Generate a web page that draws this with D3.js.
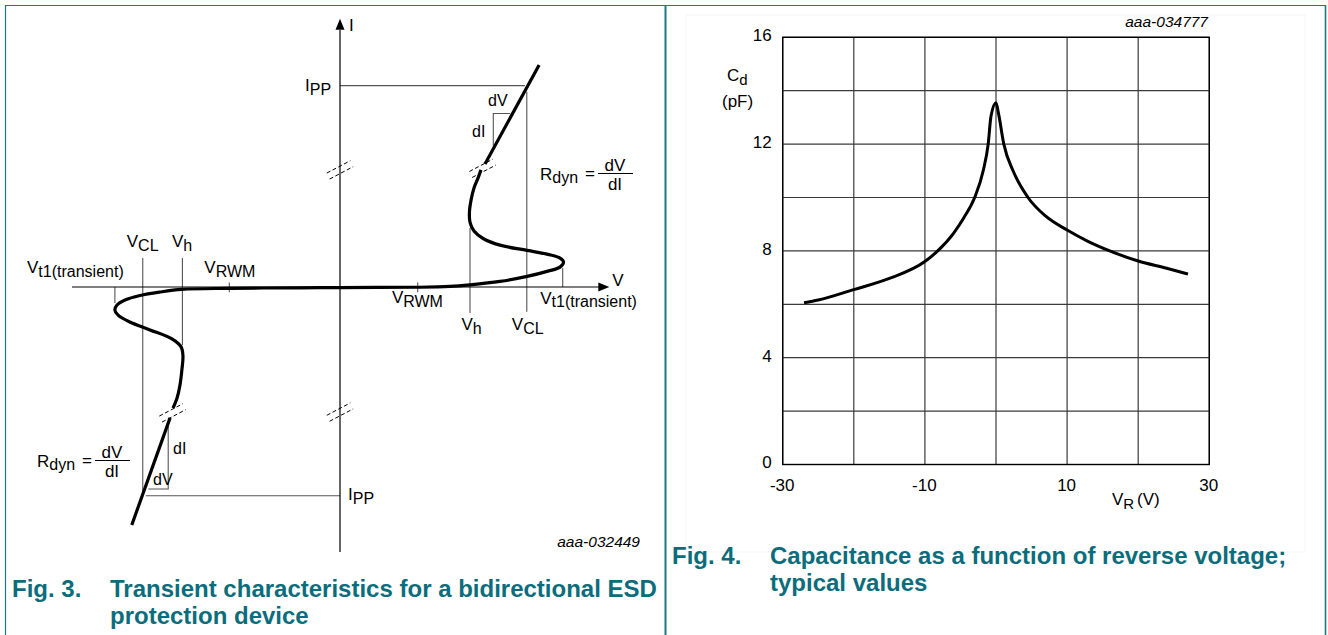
<!DOCTYPE html>
<html><head><meta charset="utf-8">
<script src="https://cdn.jsdelivr.net/npm/d3@7"></script>
<style>
body{margin:0;background:#fff;}
svg{display:block;font-family:"Liberation Sans",Arial,sans-serif;}
</style></head>
<body>
<script>
// ---------- Fig. 3 (schematic, arbitrary units) ----------
const lowLineV = [-7.77, -6.34];
const lowLineI = [-8.98, -4.94];
const midCurveV = [-6.23,-6.08,-5.97,-5.90,-5.86,-5.93,-6.27,-7.09,-7.84,-8.28,-8.40,-8.32,-8.02,-7.46,-6.72,-5.90,-4.14,-1.49,0,2.87,4.10,4.85,5.97,6.98,7.76,8.21,8.34,8.21,7.76,6.98,5.97,5.34,5.00,4.85,4.83,4.89,5.00,5.15,5.26];
const midCurveI = [-4.57,-4.19,-3.70,-3.13,-2.60,-2.26,-1.96,-1.62,-1.32,-1.06,-0.87,-0.68,-0.49,-0.32,-0.19,-0.09,-0.05,-0.03,-0.02,-0.01,0.02,0.08,0.21,0.40,0.60,0.75,0.94,1.09,1.23,1.38,1.58,1.83,2.11,2.45,2.83,3.28,3.74,4.11,4.42];
const highLineV = [5.41, 7.43];
const highLineI = [4.64, 8.38];
const vclLevels = [-7.36, 6.97];
const vhLevels = [-5.88, 4.85];
const vt1Levels = [-8.40, 8.31];
const vrwmLevels = [-4.13, 2.90];
const ippLevels = [-7.88, 7.60];
const breakV = [0, 0, -6.25, 5.32];
const breakI = [4.42, -4.72, -4.75, 4.48];
const triTopV = [5.72, 5.72, 6.34];
const triTopI = [5.32, 6.55, 6.55];
const triLowV = [-6.41, -6.41, -7.15];
const triLowI = [-5.27, -7.62, -7.62];

// ---------- Fig. 4 (capacitance vs reverse voltage) ----------
const vrValues = [-27,-25,-20,-15,-10,-8.2,-6,-4.5,-3,-1.8,-1.1,-0.7,0,0.35,1.1,2.4,4.5,7,10,13,16,20,24,27];
const cdValues = [6.06,6.16,6.55,6.97,7.6,8.0,8.65,9.25,10.0,11.0,12.0,13.05,13.55,13.15,12.0,11.0,10.0,9.3,8.78,8.35,8.0,7.62,7.35,7.13];
const xTickLabels = [-30,-10,10,30];
const yTickLabels = [0,4,8,12,16];

const W = 1328, H = 635;
const teal = "#0b6d7b";
const svg = d3.select("body").append("svg").attr("width", W).attr("height", H);

// panel borders
const border = svg.append("g").attr("stroke", "#1d7880").attr("fill", "none");
border.append("line").attr("x1",5).attr("x2",1326).attr("y1",5.5).attr("y2",5.5).attr("stroke-width",1.2);
border.append("line").attr("x1",5.5).attr("x2",5.5).attr("y1",5).attr("y2",H).attr("stroke-width",1.2);
border.append("line").attr("x1",665.5).attr("x2",665.5).attr("y1",5).attr("y2",H).attr("stroke-width",2);
border.append("line").attr("x1",1325.5).attr("x2",1325.5).attr("y1",5).attr("y2",H).attr("stroke-width",1.6);
svg.append("rect").attr("x",686).attr("y",15).attr("width",619).attr("height",537)
  .attr("fill","none").attr("stroke","#f5f5f5");

function label(g, x, y, main, sub, opts={}) {
  const fs = opts.fs || 17, sfs = opts.sfs || 16;
  const t = g.append("text").attr("x", x).attr("y", y).attr("font-size", fs)
    .attr("fill", "#000").attr("text-anchor", opts.anchor || "start");
  t.append("tspan").text(main);
  if (sub) t.append("tspan").attr("font-size", sfs).attr("dy", opts.dy || 4).text(sub);
  return t;
}

// ===== Left chart =====
const xL = d3.scaleLinear().domain([-10, 10]).range([72, 608]);
const yL = d3.scaleLinear().domain([-10, 10]).range([552, 22]);
const gL = svg.append("g");

// guides (gray)
const guide = gL.append("g").attr("stroke", "#555").attr("stroke-width", 1.1).attr("fill","none");
guide.append("line").attr("x1", xL(0)).attr("x2", xL(6.9)).attr("y1", yL(ippLevels[1])).attr("y2", yL(ippLevels[1]));
guide.append("line").attr("x1", xL(-7.25)).attr("x2", xL(0)).attr("y1", yL(ippLevels[0])).attr("y2", yL(ippLevels[0]));
guide.append("line").attr("x1", xL(vclLevels[0])).attr("x2", xL(vclLevels[0])).attr("y1", yL(1.09)).attr("y2", yL(-7.75));
guide.append("line").attr("x1", xL(vhLevels[0])).attr("x2", xL(vhLevels[0])).attr("y1", yL(1.09)).attr("y2", yL(-2.2));
guide.append("line").attr("x1", xL(vclLevels[1])).attr("x2", xL(vclLevels[1])).attr("y1", yL(7.37)).attr("y2", yL(-0.93));
guide.append("line").attr("x1", xL(vhLevels[1])).attr("x2", xL(vhLevels[1])).attr("y1", yL(2.23)).attr("y2", yL(-0.98));
guide.append("line").attr("x1", xL(vt1Levels[0])).attr("x2", xL(vt1Levels[0])).attr("y1", yL(0)).attr("y2", yL(-0.6));
guide.append("line").attr("x1", xL(vt1Levels[1])).attr("x2", xL(vt1Levels[1])).attr("y1", yL(0)).attr("y2", yL(0.72));
vrwmLevels.forEach(v => guide.append("line").attr("x1", xL(v)).attr("x2", xL(v)).attr("y1", yL(0.17)).attr("y2", yL(-0.2)));
const triLine = d3.line().x(d => xL(d[0])).y(d => yL(d[1]));
guide.append("path").attr("d", triLine(triTopV.map((v,i)=>[v,triTopI[i]])));
guide.append("path").attr("d", triLine(triLowV.map((v,i)=>[v,triLowI[i]])));

// axes
const ax = gL.append("g").attr("stroke", "#000").attr("stroke-width", 1.2);
ax.append("line").attr("x1", xL(-10)).attr("x2", xL(9.7)).attr("y1", yL(0)).attr("y2", yL(0));
ax.append("line").attr("x1", xL(0)).attr("x2", xL(0)).attr("y1", yL(-10)).attr("y2", yL(9.7));
gL.append("path").attr("fill","#000")
  .attr("d", `M${xL(10.05)},${yL(0)} L${xL(10.05)-11},${yL(0)-4.5} L${xL(10.05)-11},${yL(0)+4.5} Z`);
gL.append("path").attr("fill","#000")
  .attr("d", `M${xL(0)},${yL(10.12)} L${xL(0)-4.5},${yL(10.12)+11} L${xL(0)+4.5},${yL(10.12)+11} Z`);

// curve
const crv = d3.line().x(d => xL(d[0])).y(d => yL(d[1])).curve(d3.curveCatmullRom.alpha(0.5));
const cg = gL.append("g").attr("fill","none").attr("stroke","#000").attr("stroke-width",3.2)
  .attr("stroke-linecap","butt").attr("stroke-linejoin","round");
cg.append("path").attr("d", crv(lowLineV.map((v,i)=>[v,lowLineI[i]])));
cg.append("path").attr("d", crv(midCurveV.map((v,i)=>[v,midCurveI[i]])));
cg.append("path").attr("d", crv(highLineV.map((v,i)=>[v,highLineI[i]])));

// break marks
const bm = gL.append("g").attr("stroke","#000").attr("stroke-width",1).attr("stroke-dasharray","4,2.5");
breakV.forEach((v, k) => {
  const cx = xL(v), cy = yL(breakI[k]);
  const dx = 11.8, dy = -6.2, ox = 1.4, oy = 3.0;
  [-1, 1].forEach(s => {
    bm.append("line").attr("x1", cx - dx + s*ox).attr("y1", cy - dy + s*oy)
      .attr("x2", cx + dx + s*ox).attr("y2", cy + dy + s*oy);
  });
});

// left labels
label(gL, xL(0)+9, yL(10.12)+12, "I", null);
label(gL, xL(0)-35, yL(ippLevels[1])+5, "I", "PP");
label(gL, xL(0)+8, yL(ippLevels[0])+4, "I", "PP");
label(gL, xL(vclLevels[0])-16, 247, "V", "CL");
label(gL, xL(vhLevels[0])-10.5, 247, "V", "h");
label(gL, 27, 273, "V", "t1(transient)");
label(gL, xL(vrwmLevels[0])-25, 273, "V", "RWM");
label(gL, xL(2.87)-25, 303, "V", "RWM");
label(gL, xL(vt1Levels[1])-22.5, 304, "V", "t1(transient)", {dy:3});
label(gL, xL(vhLevels[1])-8.5, 330, "V", "h");
label(gL, xL(vclLevels[1])-15, 330, "V", "CL");
label(gL, xL(10.05)+3, yL(0)-1, "V", null);
label(gL, 488, 106, "dV", null, {fs:16});
label(gL, 472, 137, "dI", null, {fs:16});
label(gL, 173, 454, "dI", null, {fs:16});
label(gL, 153, 485, "dV", null, {fs:16});
function rdyn(x, y) {
  label(gL, x, y, "R", "dyn", {dy:3});
  gL.append("text").attr("x", x+45).attr("y", y-1).attr("font-size",17).text("=");
  gL.append("text").attr("x", x+75).attr("y", y-9).attr("font-size",17).attr("text-anchor","middle").text("dV");
  gL.append("line").attr("x1", x+58).attr("x2", x+93).attr("y1", y-6.5).attr("y2", y-6.5).attr("stroke","#000").attr("stroke-width",1.1);
  gL.append("text").attr("x", x+75).attr("y", y+10).attr("font-size",17).attr("text-anchor","middle").text("dI");
}
rdyn(540, 180);
rdyn(37, 467);
gL.append("text").attr("x", 640).attr("y", 547).attr("font-size", 15.5).attr("font-style","italic")
  .attr("text-anchor","end").text("aaa-032449");

// captions
function caption(x, y, num, lines) {
  const g = svg.append("g").attr("fill", teal).attr("font-weight","bold").attr("font-size",24);
  g.append("text").attr("x", x).attr("y", y).text(num);
  lines.forEach((l, i) => g.append("text").attr("x", x+98).attr("y", y + i*27).text(l));
}
caption(12, 597, "Fig. 3.", ["Transient characteristics for a bidirectional ESD", "protection device"]);
caption(672, 564, "Fig. 4.", ["Capacitance as a function of reverse voltage;", "typical values"]);

// ===== Right chart =====
const xR = d3.scaleLinear().domain([-30, 30]).range([782.7, 1209.3]);
const yR = d3.scaleLinear().domain([0, 16]).range([464.5, 37.3]);
const gR = svg.append("g");
const grid = gR.append("g").attr("stroke","#3a3a3a").attr("stroke-width",1.2);
d3.range(-30, 31, 10).forEach(v => grid.append("line").attr("x1", xR(v)).attr("x2", xR(v)).attr("y1", yR(0)).attr("y2", yR(16)));
d3.range(0, 17, 2).forEach(c => grid.append("line").attr("x1", xR(-30)).attr("x2", xR(30)).attr("y1", yR(c)).attr("y2", yR(c)));
gR.append("rect").attr("x", xR(-30)).attr("y", yR(16)).attr("width", xR(30)-xR(-30)).attr("height", yR(0)-yR(16))
  .attr("fill","none").attr("stroke","#000").attr("stroke-width",1.4);

const yAxis = d3.axisLeft(yR).tickValues(yTickLabels).tickSize(0).tickPadding(11).tickFormat(d => String(d));
const ya = gR.append("g").attr("transform", `translate(${xR(-30)},-2)`).call(yAxis);
ya.select(".domain").remove();
ya.selectAll("text").attr("font-size", 17).attr("font-family", "Liberation Sans, Arial, sans-serif").attr("fill","#000");
const xAxis = d3.axisBottom(xR).tickValues(xTickLabels).tickSize(0).tickPadding(14).tickFormat(d => String(d));
const xa = gR.append("g").attr("transform", `translate(-1,${yR(0)})`).call(xAxis);
xa.select(".domain").remove();
xa.selectAll("text").attr("font-size", 17).attr("font-family", "Liberation Sans, Arial, sans-serif").attr("fill","#000");

const cdLine = d3.line().x(d => xR(d[0])).y(d => yR(d[1])).curve(d3.curveMonotoneX);
gR.append("path").attr("d", cdLine(vrValues.map((v,i)=>[v,cdValues[i]])))
  .attr("fill","none").attr("stroke","#000").attr("stroke-width",3).attr("stroke-linejoin","round");

label(gR, 727, 81, "C", "d", {dy:4, sfs:15});
label(gR, 722, 107, "(pF)", null);
label(gR, 1112, 505, "V", "R", {dy:4, sfs:15});
gR.append("text").attr("x", 1137).attr("y", 505).attr("font-size",17).text("(V)");
gR.append("text").attr("x", 1208).attr("y", 27).attr("font-size", 15.5).attr("font-style","italic")
  .attr("text-anchor","end").text("aaa-034777");
</script>
</body></html>
